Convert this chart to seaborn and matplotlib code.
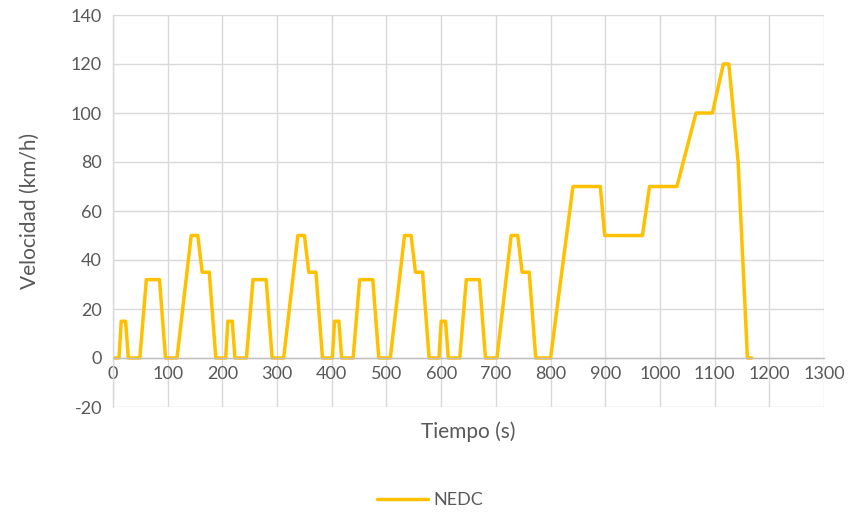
import matplotlib
matplotlib.use("Agg")
import matplotlib.pyplot as plt
import seaborn as sns
import pandas as pd

tiempo = [0, 11, 15, 23, 28, 49, 61, 85, 96, 117, 143, 155, 163, 176, 188, 195,
          206, 210, 218, 223, 244, 256, 280, 291, 312, 338, 350, 358, 371, 383, 390,
          401, 405, 413, 418, 439, 451, 475, 486, 507, 533, 545, 553, 566, 578, 585,
          596, 600, 608, 613, 634, 646, 670, 681, 702, 728, 740, 748, 761, 773, 780,
          800, 841, 891, 899, 968, 981, 1031, 1066, 1096, 1116, 1126, 1143, 1160, 1168]
velocidad = [0, 0, 15, 15, 0, 0, 32, 32, 0, 0, 50, 50, 35, 35, 0, 0,
             0, 15, 15, 0, 0, 32, 32, 0, 0, 50, 50, 35, 35, 0, 0,
             0, 15, 15, 0, 0, 32, 32, 0, 0, 50, 50, 35, 35, 0, 0,
             0, 15, 15, 0, 0, 32, 32, 0, 0, 50, 50, 35, 35, 0, 0,
             0, 70, 70, 50, 50, 70, 70, 100, 100, 120, 120, 80, 0, 0]
serie = "NEDC"
x_ticks = list(range(0, 1301, 100))
y_ticks = list(range(-20, 141, 20))

df = pd.DataFrame({"Tiempo": tiempo, "Velocidad": velocidad, "Serie": serie})

sns.set_theme(style="white")
plt.rcParams['font.family'] = ['Lato', 'DejaVu Sans']
plt.rcParams['axes.unicode_minus'] = False
text_color = "#595959"

fig = plt.figure(figsize=(8.54, 5.12), dpi=100)
ax = fig.add_axes([113/854, 1-407/512, (824-113)/854, (407-15)/512])

sns.lineplot(data=df, x="Tiempo", y="Velocidad", hue="Serie", palette=["#FFC000"],
             linewidth=2.5, ax=ax, legend=False, sort=False)

ax.set_xlim(0, 1300)
ax.set_ylim(-20, 140)
ax.set_xticks(x_ticks)
ax.set_yticks(y_ticks)
ax.grid(True, color="#D9D9D9", linewidth=1)
ax.set_axisbelow(True)
for s in ["top", "right"]:
    ax.spines[s].set_visible(False)
ax.spines["left"].set_color("#D9D9D9")
ax.spines["left"].set_linewidth(1)
ax.spines["bottom"].set_position(("data", 0))
ax.spines["bottom"].set_color("#BFBFBF")
ax.spines["bottom"].set_linewidth(1)
ax.tick_params(axis="both", length=0, labelsize=13, colors=text_color)
ax.tick_params(axis="x", pad=6)
ax.tick_params(axis="y", pad=8)

ax.set_xlabel("")
ax.set_ylabel("")
fig.text(468/854, 1-432/512, "Tiempo (s)", ha="center", va="center",
         fontsize=15, color=text_color)
fig.text(30/854, 1-211/512, "Velocidad (km/h)", ha="center", va="center",
         fontsize=15, color=text_color, rotation=90)

from matplotlib.lines import Line2D
handle = Line2D([0], [0], color="#FFC000", linewidth=2.5)
fig.legend([handle], [serie], loc="center", bbox_to_anchor=(430/854, 1-500/512),
           frameon=False, fontsize=13, labelcolor=text_color, handlelength=2.8,
           handletextpad=0.3)

fig.savefig("out.png", dpi=100)
